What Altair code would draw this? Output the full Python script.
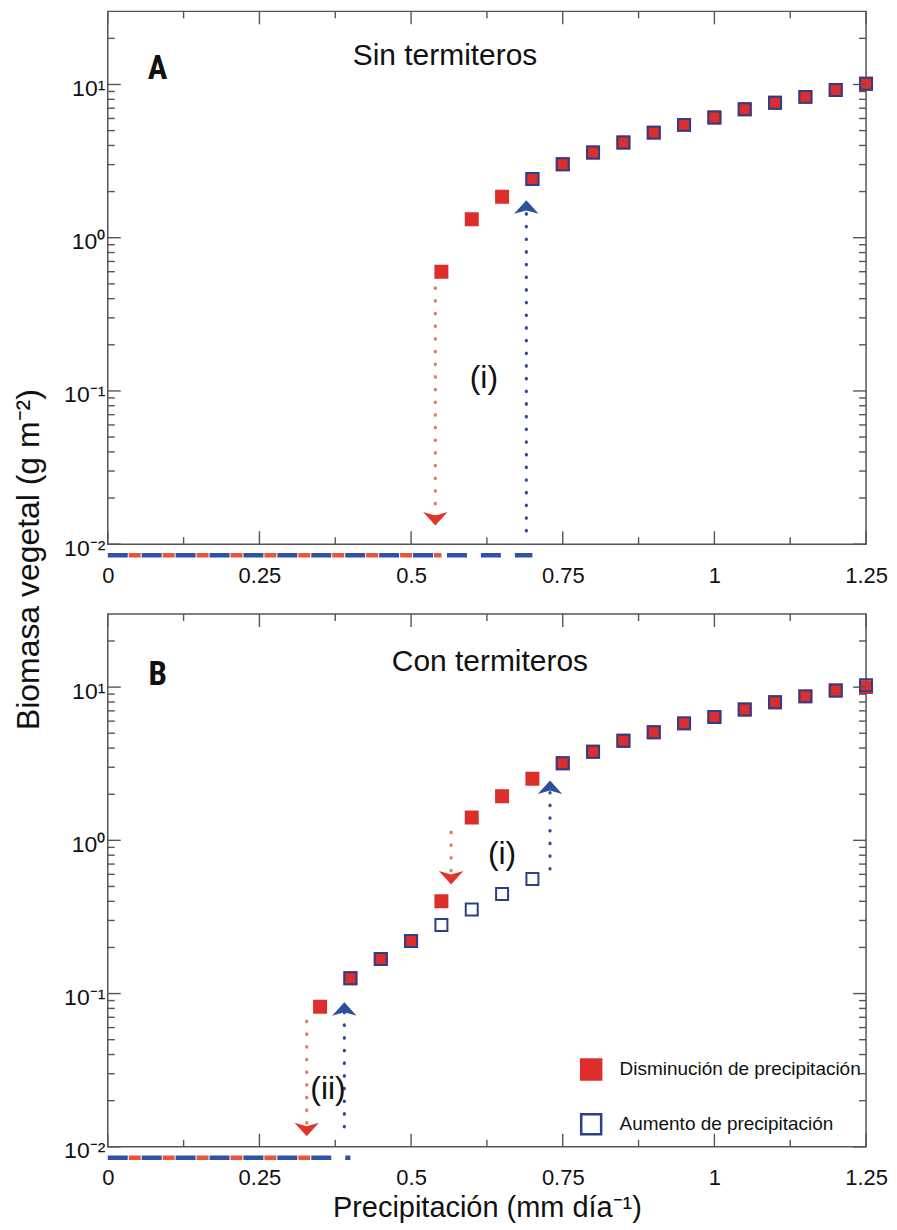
import altair as alt
import pandas as pd

# ---------------- data ----------------
SERIES = ["Disminución de precipitación", "Aumento de precipitación"]

X_MAJOR = [0, 0.25, 0.5, 0.75, 1.0, 1.25]
X_MINOR = [0.125, 0.375, 0.625, 0.875, 1.125]
Y_MAJOR = [0.01, 0.1, 1, 10]
Y_MINOR = [0.02, 0.03, 0.04, 0.05, 0.06, 0.07, 0.08, 0.09,
           0.2, 0.3, 0.4, 0.5, 0.6, 0.7, 0.8, 0.9,
           2, 3, 4, 5, 6, 7, 8, 9, 20]

# Panel A: sin termiteros
A_DEC_X = [0.55, 0.60, 0.65, 0.70, 0.75, 0.80, 0.85, 0.90, 0.95, 1.00, 1.05, 1.10, 1.15, 1.20, 1.25]
A_DEC_Y = [0.60, 1.32, 1.85, 2.42, 3.02, 3.60, 4.18, 4.85, 5.45, 6.08, 6.90, 7.60, 8.30, 9.20, 10.1]
A_INC_X = [0.70, 0.75, 0.80, 0.85, 0.90, 0.95, 1.00, 1.05, 1.10, 1.15, 1.20, 1.25]
A_INC_Y = [2.42, 3.02, 3.60, 4.18, 4.85, 5.45, 6.08, 6.90, 7.60, 8.30, 9.20, 10.1]

# Panel B: con termiteros
B_DEC_X = [0.35, 0.40, 0.45, 0.50, 0.55, 0.60, 0.65, 0.70, 0.75, 0.80, 0.85, 0.90, 0.95,
           1.00, 1.05, 1.10, 1.15, 1.20, 1.25]
B_DEC_Y = [0.082, 0.126, 0.168, 0.22, 0.40, 1.41, 1.94, 2.52, 3.19, 3.78, 4.46, 5.08, 5.80,
           6.38, 7.15, 7.97, 8.70, 9.50, 10.0]
B_INC_X = [0.40, 0.45, 0.50, 0.55, 0.60, 0.65, 0.70, 0.75, 0.80, 0.85, 0.90, 0.95,
           1.00, 1.05, 1.10, 1.15, 1.20, 1.25]
B_INC_Y = [0.126, 0.168, 0.22, 0.28, 0.354, 0.447, 0.56, 3.19, 3.78, 4.46, 5.08, 5.80,
           6.38, 7.15, 7.97, 8.70, 9.50, 10.3]

# collapsed (zero-biomass) branches, drawn under the axis: x extents
A_ZERO_DEC = [0, 0.55]
A_ZERO_INC = [0, 0.70]
B_ZERO_DEC = [0, 0.35]
B_ZERO_INC = [0, 0.40]

# transition arrows: x, start value, head value
A_DOWN_X, A_DOWN_FROM, A_DOWN_TO = [0.54], [0.47], [0.0148]
A_UP_X, A_UP_FROM, A_UP_TO = [0.69], [0.0122], [1.57]
B_DOWN_X, B_DOWN_FROM, B_DOWN_TO = [0.566, 0.328], [1.13, 0.066], [0.575, 0.0131]
B_UP_X, B_UP_FROM, B_UP_TO = [0.729, 0.39], [0.65, 0.0135], [2.2, 0.0785]

# annotations
A_NOTES = (["(i)"], [0.62], [0.122])
B_NOTES = (["(i)", "(ii)"], [0.65, 0.363], [0.81, 0.0237])

# ---------------- style ----------------
W, H = 760, 534
RED = "#dc2e2a"
BLUE = "#2d3e8c"
RED_DOT = "#e07a62"
BLUE_DOT = "#34489a"
RED_DASH = "#e8553a"
BLUE_DASH = "#2f52a6"
FRAME = "#555555"
TXT = "#111111"
FONT = "Liberation Sans"
BOLD_FONT = "Liberation Sans Narrow, Roboto Condensed, DejaVu Sans Condensed, Liberation Sans"

XS = alt.Scale(domain=[0, 1.25], nice=False, zero=False)
YS = alt.Scale(type="log", domain=[0.01, 30], nice=False)

DOWN_HEAD = "M-1,-0.5L0,0.6L1,-0.5L0,-0.22Z"
UP_HEAD = "M-1,0.5L0,-0.6L1,0.5L0,0.22Z"

LABEL_EXPR = ("datum.value >= 5 ? '10¹' : datum.value >= 0.5 ? '10⁰' : "
              "datum.value >= 0.05 ? '10⁻¹' : '10⁻²'")


def axes_for(first):
    common_x = dict(values=X_MAJOR, labelExpr="datum.value + ''", labelFlush=False,
                    ticks=False, domain=False, grid=False, labelFontSize=22,
                    labelPadding=21, labelColor=TXT, titleFontSize=29,
                    titleFontWeight="normal", titleColor=TXT)
    common_y = dict(values=Y_MAJOR, labelExpr=LABEL_EXPR, ticks=False, domain=False,
                    grid=False, labelFontSize=23, labelPadding=3, labelOffset=4,
                    labelColor=TXT, titleFontSize=32, titleFontWeight="normal",
                    titleColor=TXT)
    if first:
        xa = alt.Axis(title="", **common_x)
        ya = alt.Axis(title="Biomasa vegetal (g m⁻²)", titleX=-62, titleY=549, **common_y)
    else:
        xa = alt.Axis(title="Precipitación (mm día⁻¹)", titlePadding=5, **common_x)
        ya = alt.Axis(title="", **common_y)
    return xa, ya


def make_panel(dec_x, dec_y, inc_x, inc_y, zero_dec, zero_inc,
               down, up, notes, letter, label, first):
    xa, ya = axes_for(first)

    def X(f):
        return alt.X(f, scale=XS, axis=xa)

    def Y(f):
        return alt.Y(f, scale=YS, axis=ya)

    pts = pd.DataFrame({
        "x": dec_x + inc_x,
        "y": dec_y + inc_y,
        "serie": [SERIES[0]] * len(dec_x) + [SERIES[1]] * len(inc_x),
    })

    if first:
        leg = None
    else:
        leg = alt.Legend(orient="none", legendX=473, legendY=445, title=None,
                         symbolType="square", symbolSize=400, symbolStrokeWidth=2.5,
                         labelFontSize=19, labelColor=TXT, labelOffset=17,
                         labelLimit=0, rowPadding=24, padding=0)

    points = alt.Chart(pts).mark_point(shape="square", size=144, strokeWidth=2,
                                       opacity=1).encode(
        x=X("x:Q"),
        y=Y("y:Q"),
        stroke=alt.Stroke("serie:N", scale=alt.Scale(domain=SERIES, range=[RED, BLUE]),
                          legend=leg),
        fill=alt.Fill("serie:N", scale=alt.Scale(domain=SERIES, range=[RED, "transparent"]),
                      legend=leg),
    )

    # inward ticks on all four sides
    ticks = []
    for vals, ln in ((Y_MAJOR, 13), (Y_MINOR, 7)):
        base = alt.Chart(pd.DataFrame({"v": vals})).mark_rule(color=FRAME, strokeWidth=1.4)
        ticks.append(base.encode(y=Y("v:Q"), x=alt.value(0), x2=alt.value(ln)))
        ticks.append(base.encode(y=Y("v:Q"), x=alt.value(W), x2=alt.value(W - ln)))
    for vals, ln in ((X_MAJOR, 13), (X_MINOR, 7)):
        base = alt.Chart(pd.DataFrame({"v": vals})).mark_rule(color=FRAME, strokeWidth=1.4)
        ticks.append(base.encode(x=X("v:Q"), y=alt.value(H), y2=alt.value(H - ln)))
        ticks.append(base.encode(x=X("v:Q"), y=alt.value(0), y2=alt.value(ln)))

    # collapsed branch, dashed lines under the x axis
    zero_blue = alt.Chart(pd.DataFrame({"x": zero_inc})).mark_line(
        color=BLUE_DASH, strokeWidth=4.5, strokeDash=[20, 14], clip=False
    ).encode(x=X("x:Q"), y=alt.value(H + 11))
    zero_red = alt.Chart(pd.DataFrame({"x": zero_dec})).mark_line(
        color=RED_DASH, strokeWidth=4.5, strokeDash=[12, 22], strokeDashOffset=13, clip=False
    ).encode(x=X("x:Q"), y=alt.value(H + 11))

    dn = pd.DataFrame({"x": down[0], "y1": down[1], "y2": down[2]})
    upd = pd.DataFrame({"x": up[0], "y1": up[1], "y2": up[2]})
    dots_red = alt.Chart(dn).mark_rule(color=RED_DOT, strokeWidth=3.2,
                                       strokeDash=[0.5, 12.2], strokeCap="round").encode(
        x=X("x:Q"), y=Y("y1:Q"), y2="y2:Q")
    dots_blue = alt.Chart(upd).mark_rule(color=BLUE_DOT, strokeWidth=3.2,
                                         strokeDash=[0.5, 12.2], strokeCap="round").encode(
        x=X("x:Q"), y=Y("y1:Q"), y2="y2:Q")
    head_red = alt.Chart(dn).mark_point(shape=DOWN_HEAD, size=600, filled=True,
                                        color="#e0352a", opacity=1).encode(
        x=X("x:Q"), y=Y("y2:Q"))
    head_blue = alt.Chart(upd).mark_point(shape=UP_HEAD, size=600, filled=True,
                                          color="#2c4f9e", opacity=1).encode(
        x=X("x:Q"), y=Y("y2:Q"))

    nt = pd.DataFrame({"t": notes[0], "x": notes[1], "y": notes[2]})
    note_txt = alt.Chart(nt).mark_text(fontSize=32, color=TXT, font=FONT).encode(
        x=X("x:Q"), y=Y("y:Q"), text="t:N")

    letter_txt = alt.Chart(pd.DataFrame({"t": [letter]})).mark_text(
        fontSize=33, fontWeight="bold", color=TXT, font=BOLD_FONT
    ).encode(x=alt.value(50), y=alt.value(58 if first else 61), text="t:N")
    label_txt = alt.Chart(pd.DataFrame({"t": [label]})).mark_text(
        fontSize=30, color=TXT, font=FONT
    ).encode(x=alt.value(338 if first else 383), y=alt.value(45 if first else 48), text="t:N")

    layers = [points] + ticks + [zero_blue, zero_red, dots_red, dots_blue, head_red,
                                 head_blue, note_txt, letter_txt, label_txt]
    return alt.layer(*layers).properties(width=W, height=H)


panel_a = make_panel(A_DEC_X, A_DEC_Y, A_INC_X, A_INC_Y, A_ZERO_DEC, A_ZERO_INC,
                     (A_DOWN_X, A_DOWN_FROM, A_DOWN_TO), (A_UP_X, A_UP_FROM, A_UP_TO),
                     A_NOTES, "A", "Sin termiteros", True)
panel_b = make_panel(B_DEC_X, B_DEC_Y, B_INC_X, B_INC_Y, B_ZERO_DEC, B_ZERO_INC,
                     (B_DOWN_X, B_DOWN_FROM, B_DOWN_TO), (B_UP_X, B_UP_FROM, B_UP_TO),
                     B_NOTES, "B", "Con termiteros", False)

chart = alt.vconcat(panel_a, panel_b, spacing=70, bounds="flush").resolve_legend(
    stroke="independent", fill="independent"
).configure(
    font=FONT,
    padding={"top": 0, "left": 4, "right": 0, "bottom": 0},
).configure_view(stroke=FRAME, strokeWidth=1.5)

chart.save("out.html", embed_options={"renderer": "svg", "actions": False})
